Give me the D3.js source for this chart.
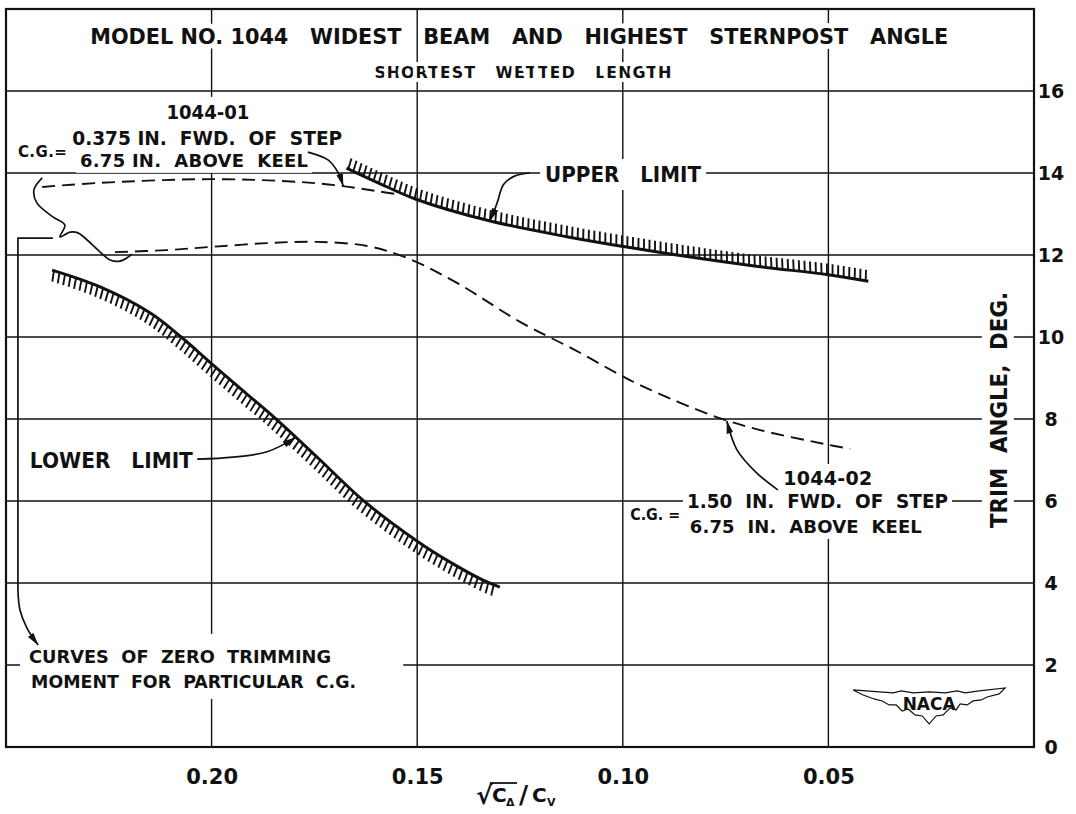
<!DOCTYPE html>
<html><head><meta charset="utf-8">
<script src="https://cdn.jsdelivr.net/npm/d3@7"></script>
<style>
body{margin:0;background:#fff}
svg text{font-family:'DejaVu Sans',sans-serif;font-weight:bold;fill:#111;white-space:pre}
</style>
</head><body>
<svg id="c" width="1076" height="814"></svg>
<script>
// ---------- data ----------
const xTickValues = [0.20, 0.15, 0.10, 0.05];
const yTickValues = [0, 2, 4, 6, 8, 10, 12, 14, 16];
const yGridValues = [2, 4, 6, 8, 10, 12, 14, 16];

// Upper limit (hatched above)
const upperLimitCv   = [0.1672, 0.1595, 0.1503, 0.1327, 0.1133, 0.0994, 0.0856, 0.0671, 0.0500, 0.0403];
const upperLimitTrim = [14.12, 13.76, 13.36, 12.84, 12.44, 12.20, 11.98, 11.72, 11.52, 11.36];

// Lower limit (hatched below)
const lowerLimitCv   = [0.2388, 0.2271, 0.2150, 0.2074, 0.1999, 0.1919, 0.1841, 0.1736, 0.1632, 0.1500, 0.1420, 0.1340, 0.1299];
const lowerLimitTrim = [11.63, 11.22, 10.59, 10.00, 9.34, 8.65, 7.98, 7.00, 6.02, 5.02, 4.51, 4.07, 3.90];

// 1044-01 zero trimming moment curve (dashed)
const cg01Cv   = [0.2412, 0.2271, 0.1997, 0.1785, 0.1680, 0.1600, 0.1540];
const cg01Trim = [13.66, 13.76, 13.85, 13.78, 13.68, 13.56, 13.47];

// 1044-02 zero trimming moment curve (dashed)
const cg02Cv   = [0.2235, 0.2109, 0.1997, 0.1866, 0.1744, 0.1622, 0.1525, 0.1400, 0.1250, 0.1116, 0.0983, 0.0866, 0.0764, 0.0666, 0.0499, 0.0447];
const cg02Trim = [12.07, 12.12, 12.20, 12.29, 12.32, 12.22, 11.93, 11.30, 10.37, 9.68, 8.95, 8.42, 8.02, 7.73, 7.37, 7.27];

// ---------- chart ----------
const svg = d3.select('#c');
const x = d3.scaleLinear().domain([0.25, 0]).range([6, 1034]);
const y = d3.scaleLinear().domain([0, 18]).range([747, 9]);
const P = (v, t) => [x(v), y(t)];
const zip = (a, b) => a.map((d, i) => [x(d), y(b[i])]);
const INK = '#111';

const defs = svg.append('defs');
defs.append('marker').attr('id', 'arr').attr('viewBox', '0 0 13 8')
  .attr('refX', 12.5).attr('refY', 4).attr('markerWidth', 13).attr('markerHeight', 8)
  .attr('markerUnits', 'userSpaceOnUse').attr('orient', 'auto')
  .append('path').attr('d', 'M0,0.6 L13,4 L0,7.4 Z').attr('fill', INK);

// grid
const grid = svg.append('g').attr('stroke', INK).attr('stroke-width', 1.4);
grid.selectAll('line.v').data(xTickValues).join('line').attr('class', 'v')
  .attr('x1', d => x(d)).attr('x2', d => x(d)).attr('y1', y(18)).attr('y2', y(0));
grid.selectAll('line.h').data(yGridValues).join('line').attr('class', 'h')
  .attr('x1', x(0.25)).attr('x2', x(0)).attr('y1', d => y(d)).attr('y2', d => y(d));

// white backgrounds that interrupt the grid behind lettering
const bgLayer = svg.append('g').attr('fill', '#fff');
bgLayer.append('rect').attr('x', x(0.2466)).attr('y', y(2.76))
  .attr('width', x(0.1534) - x(0.2466)).attr('height', y(1.17) - y(2.76));

svg.append('rect').attr('x', x(0.25)).attr('y', y(18))
  .attr('width', x(0) - x(0.25)).attr('height', y(0) - y(18))
  .attr('fill', 'none').attr('stroke', INK).attr('stroke-width', 2.2);

// axes labels
const ax = svg.append('g').attr('transform', `translate(${x(0)},0)`)
  .call(d3.axisRight(y).tickValues(yTickValues).tickSize(0).tickFormat(d3.format('d')));
ax.select('.domain').remove();
ax.selectAll('text').attr('x', 17).attr('text-anchor', 'middle').attr('dy', '0.36em')
  .attr('font-size', 19).attr('font-family', null).attr('fill', INK);

const bx = svg.append('g').attr('transform', `translate(0,${y(0)})`)
  .call(d3.axisBottom(x).tickValues(xTickValues).tickSize(0).tickFormat(d3.format('.2f')));
bx.select('.domain').remove();
bx.selectAll('text').attr('y', 22).attr('dy', '0.72em').attr('font-size', 21)
  .attr('font-family', null).attr('fill', INK);

// text helper
function label(str, v, t, o) {
  const el = svg.append('text').attr('x', x(v)).attr('y', y(t)).text(str)
    .attr('font-size', o.fs).attr('text-anchor', o.anchor || 'start');
  if (o.halo) el.attr('stroke', '#fff').attr('stroke-width', o.halo)
    .attr('paint-order', 'stroke').attr('stroke-linejoin', 'round');
  if (o.len) {
    const w = el.node().getComputedTextLength();
    el.attr('textLength', o.len).attr('lengthAdjust', w > o.len ? 'spacingAndGlyphs' : 'spacing');
  }
  if (o.bg !== undefined) {
    const b = el.node().getBBox(), p = o.bg;
    bgLayer.append('rect').attr('x', b.x - p).attr('y', b.y + 2 - p)
      .attr('width', b.width + 2 * p).attr('height', b.height - 4 + 2 * p);
  }
  return el;
}

label('MODEL NO. 1044   WIDEST   BEAM   AND   HIGHEST   STERNPOST   ANGLE', 0.1252, 17.15, {fs: 21, anchor: 'middle', halo: 10, len: 858});
label('SHORTEST   WETTED   LENGTH', 0.1243, 16.32, {fs: 16, anchor: 'middle', halo: 8, len: 297});
label('1044-01', 0.2009, 15.32, {fs: 19, anchor: 'middle', bg: 6, len: 83});
label('C.G.=', 0.2471, 14.39, {fs: 15, bg: 2, len: 49});
label('0.375 IN.  FWD.  OF  STEP', 0.2339, 14.68, {fs: 19, bg: 4, len: 270});
label('6.75 IN.  ABOVE  KEEL', 0.2320, 14.15, {fs: 18, bg: 4, len: 228});
label('UPPER   LIMIT', 0.1189, 13.78, {fs: 22, bg: 5, len: 156});
label('LOWER   LIMIT', 0.2442, 6.80, {fs: 22, bg: 3, len: 163});
label('1044-02', 0.0610, 6.39, {fs: 19, bg: 5, len: 89});
label('C.G. =', 0.0982, 5.54, {fs: 15, bg: 2, len: 50});
label('1.50  IN.  FWD.  OF  STEP', 0.0844, 5.83, {fs: 19, bg: 4, len: 261});
label('6.75  IN.  ABOVE  KEEL', 0.0837, 5.22, {fs: 18, bg: 4, len: 232});
label('CURVES  OF  ZERO  TRIMMING', 0.2444, 2.05, {fs: 18, len: 302});
label('MOMENT  FOR  PARTICULAR  C.G.', 0.2439, 1.44, {fs: 18, len: 325});

// rotated y title
const yt = svg.append('g').attr('transform', `translate(${x(0.0066)},${y(8.22)}) rotate(-90)`);
const ytBg = yt.append('rect').attr('fill', '#fff');
yt.append('text').attr('text-anchor', 'middle').attr('font-size', 23).text('TRIM  ANGLE,  DEG.')
  .each(function () {
    const w = this.getComputedTextLength();
    d3.select(this).attr('textLength', 236).attr('lengthAdjust', w > 236 ? 'spacingAndGlyphs' : 'spacing');
    const b = this.getBBox();
    ytBg.attr('x', b.x - 10).attr('y', b.y - 4).attr('width', b.width + 20).attr('height', b.height + 6);
  });

// x title: sqrt(C_delta)/C_V
const xt = svg.append('g').attr('transform', `translate(${(x(0.25) + x(0)) / 2 - 44},0)`);
xt.append('text').attr('x', 0).attr('y', 804).attr('font-size', 25).attr('font-weight', 'normal').text('√');
xt.append('line').attr('x1', 14).attr('x2', 41).attr('y1', 783).attr('y2', 783).attr('stroke', INK).attr('stroke-width', 1.8);
xt.append('text').attr('x', 16).attr('y', 802).attr('font-size', 20).text('C');
xt.append('text').attr('x', 30).attr('y', 806).attr('font-size', 11).text('Δ');
xt.append('text').attr('x', 43).attr('y', 803).attr('font-size', 25).attr('font-weight', 'normal').text('/');
xt.append('text').attr('x', 56).attr('y', 802).attr('font-size', 20).text('C');
xt.append('text').attr('x', 71).attr('y', 806).attr('font-size', 11).text('V');

// curves
const smooth = d3.line().curve(d3.curveCatmullRom.alpha(0.5));

function hatched(pts, side, len, spacing, tilt) {
  const g = svg.append('g');
  const path = g.append('path').attr('d', smooth(pts)).attr('fill', 'none')
    .attr('stroke', INK).attr('stroke-width', 3);
  const node = path.node(), L = node.getTotalLength();
  const marks = [];
  for (let s = 2; s < L - 1; s += spacing) {
    const a = node.getPointAtLength(Math.max(0, s - 1)), b = node.getPointAtLength(Math.min(L, s + 1));
    const p = node.getPointAtLength(s);
    let dx = b.x - a.x, dy = b.y - a.y; const n = Math.hypot(dx, dy); dx /= n; dy /= n;
    const nx = side * dy, ny = -side * dx;
    const c = Math.cos(tilt), sn = Math.sin(tilt);
    const rx = nx * c - ny * sn, ry = nx * sn + ny * c;
    marks.push([p.x, p.y, p.x + rx * len, p.y + ry * len]);
  }
  g.selectAll('line').data(marks).join('line')
    .attr('x1', d => d[0]).attr('y1', d => d[1]).attr('x2', d => d[2]).attr('y2', d => d[3])
    .attr('stroke', INK).attr('stroke-width', 1.9);
}
hatched(zip(upperLimitCv, upperLimitTrim), 1, 11, 5.6, -0.15);
hatched(zip(lowerLimitCv, lowerLimitTrim), -1, 11, 5.8, -0.15);

svg.append('path').attr('d', smooth(zip(cg01Cv, cg01Trim))).attr('fill', 'none')
  .attr('stroke', INK).attr('stroke-width', 1.9).attr('stroke-dasharray', '13,7');
svg.append('path').attr('d', smooth(zip(cg02Cv, cg02Trim))).attr('fill', 'none')
  .attr('stroke', INK).attr('stroke-width', 1.9).attr('stroke-dasharray', '13,7');

// leaders
function leader(pts, arrow, curve) {
  svg.append('path').attr('d', d3.line().curve(curve || d3.curveCatmullRom.alpha(0.5))(pts.map(p => P(p[0], p[1]))))
    .attr('fill', 'none').attr('stroke', INK).attr('stroke-width', 1.7)
    .attr('marker-end', arrow ? 'url(#arr)' : null);
}
leader([[0.1766, 14.51], [0.1717, 14.32], [0.1693, 14.02], [0.1680, 13.68]], true);
leader([[0.1226, 14.0], [0.1262, 13.93], [0.1290, 13.72], [0.1304, 13.32], [0.1313, 13.07], [0.1323, 12.84]], true);
leader([[0.2035, 7.02], [0.1948, 7.07], [0.1865, 7.20], [0.1797, 7.54]], true);
leader([[0.0623, 6.27], [0.0674, 6.68], [0.0722, 7.24], [0.0747, 7.95]], true);
// bracket joining the two C.G. curves
leader([[0.2412, 13.88], [0.2432, 13.59], [0.2425, 13.27], [0.2386, 12.93], [0.2357, 12.73], [0.2369, 12.44],
        [0.2344, 12.56], [0.2325, 12.54], [0.2271, 12.07], [0.2247, 11.88], [0.2223, 11.85], [0.2203, 11.95], [0.2194, 12.02]], false);
leader([[0.2386, 12.41], [0.2471, 12.41], [0.2471, 3.83]], false, d3.curveLinear);
leader([[0.2471, 3.83], [0.2466, 3.34], [0.2449, 2.90], [0.2422, 2.49]], true);

// NACA emblem
const lg = svg.append('g').attr('transform', `translate(${x(0.0255)},${y(1.05)})`);
lg.append('path').attr('fill', 'none').attr('stroke', INK).attr('stroke-width', 1.2)
  .attr('d', 'M-76,-14 L-50,-12 L-36,-11 L-28,-13 L-16,-11 L0,-12 L16,-11 L28,-13 L36,-11 L50,-13 L76,-16 ' +
             'L70,-10 L58,-7 L52,-4 L44,-3 L38,1 L31,0 L27,6 L21,4 L14,11 L7,12 L0,20 L-7,12 L-14,11 L-21,5 L-27,7 ' +
             'L-33,1 L-40,1 L-47,-3 L-55,-5 L-66,-9 Z');
lg.append('text').attr('x', 0).attr('y', 6).attr('text-anchor', 'middle').attr('font-size', 17)
  .attr('font-weight', 'normal').text('NACA');
</script>
</body></html>
